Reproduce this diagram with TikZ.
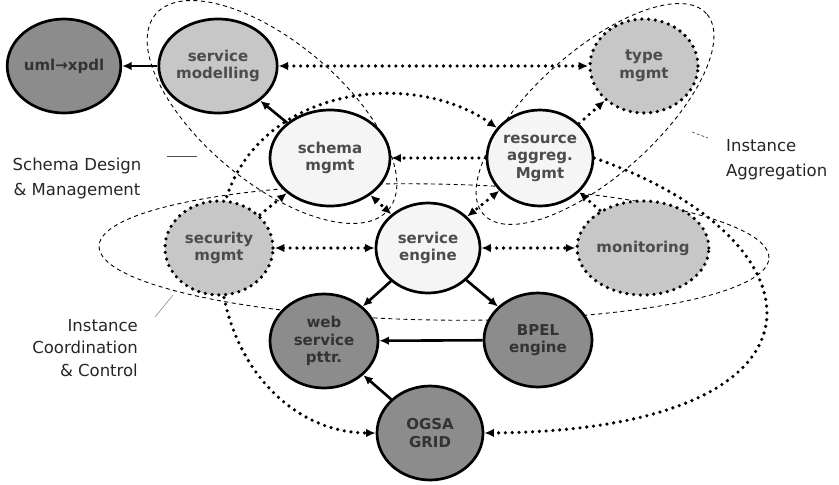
\documentclass[tikz,border=0pt]{standalone}
\usepackage{fontspec}
\setmainfont{DejaVu Sans}
\usetikzlibrary{arrows.meta, shapes.geometric, backgrounds}

\begin{document}
\begin{tikzpicture}[x=1pt, y=-1pt,
  >={Latex[length=9.5pt,width=8.5pt]},
  blob/.style={ellipse, draw, line width=2.7pt, inner sep=0pt, minimum width=108pt, minimum height=94pt,
    align=center, font=\fontsize{15}{17.5}\selectfont\bfseries, text=black!70},
  palenode/.style={blob, fill=black!4},
  greynode/.style={blob, fill=black!22},
  darknode/.style={blob, fill=black!45, text=black!80},
  dotrim/.style={line width=3.6pt, dash pattern=on 0pt off 6.8pt, line cap=round},
  sol/.style={line width=2.6pt},
  dl/.style={line width=3.6pt, dash pattern=on 0pt off 6.8pt, line cap=round},
  region/.style={dashed, line width=0.9pt, dash pattern=on 4pt off 3.5pt},
  lab/.style={font=\fontsize{16.5}{25}\selectfont, text=black!85, inner sep=0pt},
  leader/.style={line width=0.7pt, black!70}]
  \useasboundingbox (0,0) rectangle (839,485);
  \node[darknode] (uml) at (64,66) {uml→xpdl};
  \node[greynode] (smod) at (218,66) {service\\modelling};
  \node[palenode, minimum width=120pt, minimum height=96pt] (schema) at (330,158) {schema\\mgmt};
  \node[palenode, minimum width=106pt, minimum height=96pt] (res) at (540,158) {resource\\aggreg.\\Mgmt};
  \node[greynode, dotrim] (type) at (644,66) {type\\mgmt};
  \node[greynode, dotrim] (sec) at (219,248) {security\\mgmt};
  \node[palenode, minimum width=104pt, minimum height=90pt] (eng) at (428,248) {service\\engine};
  \node[greynode, dotrim, minimum width=110pt] (mon) at (643,248) {monitoring};
  \node[darknode] (web) at (324,341) {web\\service\\pttr.};
  \node[darknode] (bpel) at (538,340) {BPEL\\engine};
  \node[darknode, minimum width=106pt] (ogsa) at (430,433) {OGSA\\GRID};
  \draw[sol, ->] (smod) -- (uml);
  \draw[sol, ->] (schema) -- (smod);
  \draw[sol, ->] (eng) -- (web);
  \draw[sol, ->] (eng) -- (bpel);
  \draw[sol, ->] (bpel) -- (web);
  \draw[sol, ->] (ogsa) -- (web);
  \draw[dl, <->] (smod) -- (type);
  \draw[dl, ->] (res) -- (schema);
  \draw[dl, <->] (schema) -- (eng);
  \draw[dl, <->] (res) -- (eng);
  \draw[dl, ->] (sec) -- (schema);
  \draw[dl, <->] (sec) -- (eng);
  \draw[dl, <->] (eng) -- (mon);
  \draw[dl, ->] (res) -- (type);
  \draw[dl, ->] (mon) -- (res);
  \draw[dl, ->] (res.east) .. controls (830,240) and (850,430) .. (ogsa.east);
  \begin{scope}[on background layer]
    \draw[region, rotate around={-40:(272,112)}] (272,112) ellipse [x radius=152pt, y radius=70pt];
    \draw[region, rotate around={42:(595,114)}] (595,114) ellipse [x radius=150pt, y radius=62pt];
    \draw[region, rotate around={-1:(434,252)}] (434,252) ellipse [x radius=335pt, y radius=68pt];
    \draw[dl, <->] (res.145) .. controls (400,60) and (219,95) .. (sec.center)
      .. controls (219,360) and (290,433) .. (ogsa.west);
  \end{scope}
  \node[lab, align=center] (sdm) at (77,178) {Schema Design\\\& Management};
  \node[lab, align=left, anchor=west] (iag) at (726,160) {Instance\\Aggregation};
  \node[lab, align=right, anchor=east, font=\fontsize{16.5}{22.5}\selectfont] (icc) at (138,348) {Instance\\Coordination\\\& Control};
  \coordinate (sdmA) at (167,156);
  \coordinate (sdmB) at (197,156);
  \coordinate (iagA) at (692,132);
  \coordinate (iagB) at (708,138);
  \coordinate (iccA) at (155,317);
  \coordinate (iccB) at (173,295);
  \draw[leader] (sdmA) -- (sdmB);
  \draw[leader, dashed, dash pattern=on 3pt off 2pt] (iagA) -- (iagB);
  \draw[leader, black!40] (iccA) -- (iccB);
\end{tikzpicture}
\end{document}
